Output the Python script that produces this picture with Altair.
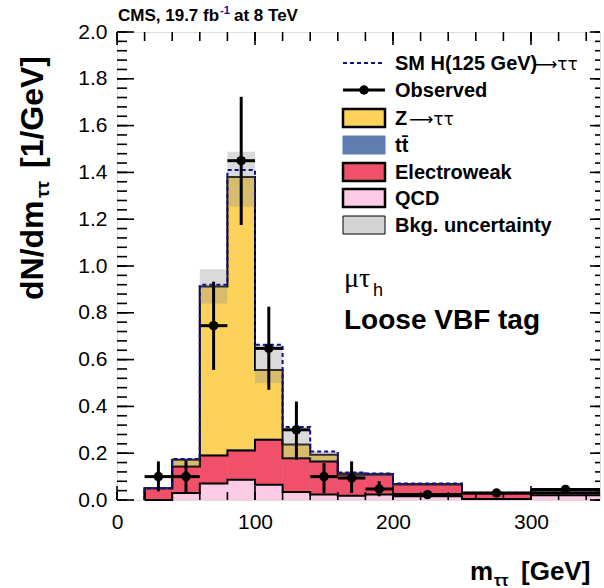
import altair as alt
import numpy as np
import pandas as pd

# Bin edges of the m_tautau histogram (GeV)
edges = [20, 40, 60, 80, 100, 120, 140, 160, 180, 200, 250, 300, 350]

# Per-bin contributions (events / GeV), stacked bottom to top
qcd = [0.0, 0.030, 0.070, 0.087, 0.065, 0.034, 0.023, 0.018, 0.023, 0.016, 0.004, 0.020]
ewk = [0.050, 0.113, 0.120, 0.125, 0.192, 0.144, 0.142, 0.090, 0.085, 0.050, 0.024, 0.010]
ttbar = [0.0, 0.0, 0.002, 0.003, 0.003, 0.004, 0.004, 0.003, 0.002, 0.002, 0.001, 0.001]
ztt = [0.0, 0.029, 0.720, 1.165, 0.296, 0.055, 0.024, 0.002, 0.001, 0.0, 0.001, 0.009]
higgs = [0.0, 0.003, 0.008, 0.030, 0.107, 0.075, 0.014, 0.005, 0.002, 0.002, 0.001, 0.001]

# Background uncertainty band
unc_lo = [0.045, 0.143, 0.840, 1.253, 0.500, 0.178, 0.165, 0.100, 0.100, 0.062, 0.026, 0.035]
unc_hi = [0.055, 0.180, 0.986, 1.488, 0.663, 0.310, 0.207, 0.120, 0.118, 0.072, 0.034, 0.045]

# Observed data with error bars
obs = [0.100, 0.100, 0.745, 1.450, 0.648, 0.300, 0.100, 0.094, 0.047, 0.023, 0.030, 0.045]
obs_lo = [0.037, 0.030, 0.556, 1.175, 0.471, 0.172, 0.030, 0.030, 0.016, 0.012, 0.020, 0.030]
obs_hi = [0.165, 0.170, 0.933, 1.723, 0.826, 0.421, 0.158, 0.165, 0.080, 0.034, 0.040, 0.060]

x_labels = [0, 100, 200, 300]
y_labels = [0.0, 0.2, 0.4, 0.6, 0.8, 1.0, 1.2, 1.4, 1.6, 1.8, 2.0]

W, H = 483, 468
FONT = "Liberation Sans"
C_ZTT = "#fdd25a"
C_TT = "#5f7daf"
C_EWK = "#f0506a"
C_QCD = "#fccbe6"
C_HIGGS = "#10108f"

lo = edges[:-1]
hi = edges[1:]
centers = [(a + b) / 2 for a, b in zip(lo, hi)]

c_qcd = np.array(qcd)
c_ewk = c_qcd + np.array(ewk)
c_tt = c_ewk + np.array(ttbar)
c_ztt = c_tt + np.array(ztt)
c_h = c_ztt + np.array(higgs)

xs = alt.Scale(domain=[0, 350], nice=False, zero=False)
ys = alt.Scale(domain=[0, 2.0], nice=False, zero=False)
xaxis = alt.Axis(values=x_labels, title="", ticks=False, domain=False, grid=False,
                 labelFont=FONT, labelFontSize=21, labelPadding=11, labelColor="black",
                 labelFlush=False, labelOverlap=False)
yaxis = alt.Axis(values=y_labels, format=".1f", title="", ticks=False, domain=False, grid=False,
                 labelFont=FONT, labelFontSize=21, labelPadding=10, labelColor="black",
                 labelFlush=False, labelOverlap=False)


def X(f):
    return alt.X(f, type="quantitative", scale=xs, axis=xaxis)


def Y(f):
    return alt.Y(f, type="quantitative", scale=ys, axis=yaxis)


layers = []

# Filled stack: each component from its own bottom to its own top
stack = [
    (c_tt, c_ztt, C_ZTT),
    (c_ewk, c_tt, C_TT),
    (c_qcd, c_ewk, C_EWK),
    (np.zeros(len(qcd)), c_qcd, C_QCD),
]
for bottom, top, color in stack:
    df = pd.DataFrame({"lo": lo, "hi": hi, "b": bottom, "t": top})
    layers.append(
        alt.Chart(df).mark_rect(fill=color, stroke=color, strokeWidth=0.6)
        .encode(x=X("lo"), x2="hi", y=Y("b"), y2="t")
    )


def outline(top, name):
    xs_ = [edges[0]] + list(lo) + [edges[-1]]
    ys_ = [0.0] + list(top) + [top[-1]]
    return pd.DataFrame({"x": xs_, "y": ys_, "order": range(len(xs_)), "layer": name})


# Black step outlines of the stacked histograms
out_df = pd.concat([outline(c_qcd, "qcd"), outline(c_ewk, "ewk"), outline(c_ztt, "ztt")])
layers.append(
    alt.Chart(out_df).mark_line(interpolate="step-after", color="black", strokeWidth=2)
    .encode(x=X("x"), y=Y("y"), order="order:Q", detail="layer:N")
)

# Background uncertainty band
band = pd.DataFrame({"lo": lo, "hi": hi, "b": unc_lo, "t": unc_hi})
layers.append(
    alt.Chart(band).mark_rect(fill="#8f8f8f", opacity=0.33)
    .encode(x=X("lo"), x2="hi", y=Y("b"), y2="t")
)

# SM Higgs stacked on top, dashed outline
layers.append(
    alt.Chart(outline(c_h, "h")).mark_line(interpolate="step-after", color=C_HIGGS,
                                          strokeWidth=2, strokeDash=[4, 3])
    .encode(x=X("x"), y=Y("y"), order="order:Q")
)

# Axis ticks drawn inward on all four sides
x_minor = list(range(0, 351, 20))
y_minor = [round(i * 0.04, 2) for i in range(51)]
y_major = y_labels
tick_specs = [
    (x_minor, "x", "bottom", 8), (x_labels, "x", "bottom", 14),
    (x_minor, "x", "top", 9), (x_labels, "x", "top", 13),
    (y_minor, "y", "left", 10), (y_major, "y", "left", 17),
    (y_minor, "y", "right", 5), (y_major, "y", "right", 10),
]
for vals, axis_name, side, length in tick_specs:
    tdf = pd.DataFrame({"v": vals})
    if axis_name == "x":
        y0, y1 = (H, H - length) if side == "bottom" else (0, length)
        enc = dict(x=X("v"), y=alt.value(y0), y2=alt.value(y1))
    else:
        x0, x1 = (0, length) if side == "left" else (W, W - length)
        enc = dict(y=Y("v"), x=alt.value(x0), x2=alt.value(x1))
    layers.append(alt.Chart(tdf).mark_rule(color="black", strokeWidth=1.6).encode(**enc))

# Observed data
data = pd.DataFrame({"c": centers, "lo": lo, "hi": hi, "v": obs, "elo": obs_lo, "ehi": obs_hi})
layers.append(
    alt.Chart(data).mark_rule(color="black", strokeWidth=3)
    .encode(x=X("c"), y=Y("elo"), y2="ehi")
)
layers.append(
    alt.Chart(data).mark_rule(color="black", strokeWidth=3)
    .encode(x=X("lo"), x2="hi", y=Y("v"))
)
layers.append(
    alt.Chart(data).mark_circle(color="black", size=90, opacity=1)
    .encode(x=X("c"), y=Y("v"))
)

blank = alt.Data(values=[{}])


def text(s, x, y, size, weight="bold", align="left", baseline="alphabetic", angle=0,
         color="black", font=FONT):
    return alt.Chart(blank).mark_text(
        text=s, fontSize=size, fontWeight=weight, align=align, baseline=baseline,
        angle=angle, color=color, font=font
    ).encode(x=alt.value(x), y=alt.value(y))


def box(x0, x1, y0, y1, fill, stroke="black", sw=2.5, opacity=1.0):
    return alt.Chart(blank).mark_rect(fill=fill, stroke=stroke, strokeWidth=sw, opacity=opacity).encode(
        x=alt.value(x0), x2=alt.value(x1), y=alt.value(y0), y2=alt.value(y1))


# Legend (plot-relative pixel positions)
ox, oy = 117, 32
lx0, lx1, tx = 343 - ox, 385 - ox, 395 - ox
rows = [63, 90, 118, 145, 172, 198, 225]
labels = ["SM H(125 GeV)", "Observed", "Z", "tt\u0304",
          "Electroweak", "QCD", "Bkg. uncertainty"]

r = [v - oy for v in rows]
layers.append(
    alt.Chart(blank).mark_rule(color=C_HIGGS, strokeWidth=2, strokeDash=[4, 3])
    .encode(x=alt.value(lx0), x2=alt.value(lx1), y=alt.value(r[0]))
)
layers.append(
    alt.Chart(blank).mark_rule(color="black", strokeWidth=3)
    .encode(x=alt.value(lx0), x2=alt.value(lx1), y=alt.value(r[1]))
)
layers.append(
    alt.Chart(blank).mark_circle(color="black", size=90, opacity=1)
    .encode(x=alt.value((lx0 + lx1) / 2), y=alt.value(r[1]))
)
layers.append(box(lx0, lx1, r[2] - 9, r[2] + 9, C_ZTT))
layers.append(box(lx0, lx1, r[3] - 9, r[3] + 9, C_TT, stroke=C_TT, sw=1))
layers.append(box(lx0, lx1, r[4] - 9, r[4] + 9, C_EWK))
layers.append(box(lx0, lx1, r[5] - 9, r[5] + 9, C_QCD))
layers.append(box(lx0, lx1, r[6] - 9, r[6] + 9, "#d4d4d4", sw=1))
for lab, yy in zip(labels, r):
    layers.append(text(lab, tx, yy + 7, 20))
# decay arrows with tau-pair symbols after "SM H(125 GeV)" and "Z"
layers.append(text("\u27f6\u03c4\u03c4", 533 - ox, r[0] + 7, 17, weight="normal", font="DejaVu Sans"))
layers.append(text("\u27f6\u03c4\u03c4", 409 - ox, r[2] + 7, 17, weight="normal", font="DejaVu Sans"))

# Channel and category labels
layers.append(text("\u03bc\u03c4", 344 - ox, 287 - oy, 28, weight="normal", font="Liberation Serif"))
layers.append(text("h", 373 - ox, 296 - oy, 18, weight="normal"))
layers.append(text("Loose VBF tag", 344 - ox, 329 - oy, 28))

# CMS header
layers.append(text("CMS, 19.7 fb", 118 - ox, 21 - oy, 17))
layers.append(text("-1", 220 - ox, 14 - oy, 11, color="#10108f"))
layers.append(text("at 8 TeV", 234 - ox, 21 - oy, 17))

# Axis titles
layers.append(text("m", 470 - ox, 580 - oy, 26))
layers.append(text("\u03c4\u03c4", 494 - ox, 586 - oy, 16))
layers.append(text("[GeV]", 521 - ox, 580 - oy, 26))

layers.append(text("dN/dm", 43 - ox, 300 - oy, 32, angle=270))
layers.append(text("\u03c4\u03c4", 49 - ox, 198 - oy, 19, angle=270))
layers.append(text("[1/GeV]", 43 - ox, 168 - oy, 32, angle=270))

chart = (
    alt.layer(*layers)
    .properties(width=W, height=H, autosize=alt.AutoSizeParams(type="none"),
                padding={"left": 117, "top": 32, "right": 4, "bottom": 88})
    .configure_view(stroke="black", strokeWidth=2)
    .configure(background="white")
)

chart.save("out.html", embed_options={"renderer": "svg", "actions": False})
